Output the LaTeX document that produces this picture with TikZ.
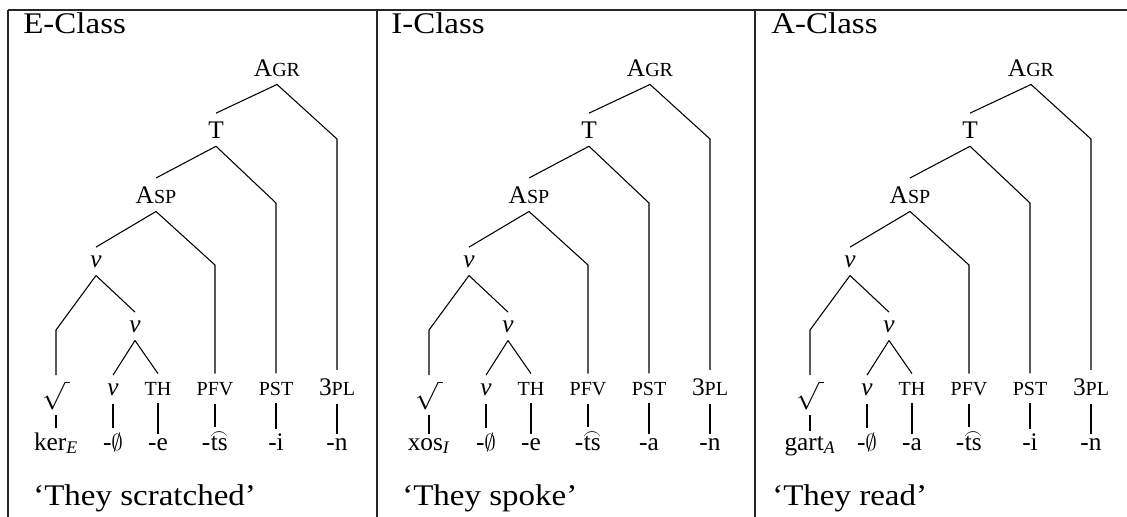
\documentclass[tikz,border=0pt]{standalone}
\usepackage{amsmath}
\usepackage{fontspec}
\setmainfont{Liberation Serif}
\newcommand{\labfont}{\fontsize{19}{21}\selectfont}
\newcommand{\scf}{\fontsize{15}{16}\selectfont}
\newcommand{\headfont}{\fontsize{22.5}{26}\selectfont}
\newcommand{\wide}[1]{\scalebox{1.1}[1]{#1}}
\newcommand{\tiets}{\leavevmode\vbox{\offinterlineskip\halign{\hfil##\hfil\cr
  \scalebox{0.8}[0.9]{$\frown$}\cr\noalign{\kern-2.5pt}ts\cr}}}
\tikzset{
  lab/.style={font=\labfont, inner xsep=1pt, inner ysep=6pt, anchor=base},
  morph/.style={font=\labfont, inner xsep=1pt, inner ysep=3pt, anchor=base},
  br/.style={line width=0.8pt},
  frame/.style={line width=1pt, draw=black!85},
  head/.style={font=\headfont, anchor=base west, inner sep=0pt}
}
\newcommand{\drawpanel}[5]{%
\begin{scope}[xshift=#2*0.75pt]
  \node[lab] (#1agr) at (277,76) {A{\scf GR}};
  \node[lab] (#1t) at (216,138) {T};
  \node[lab] (#1asp) at (156,203) {A{\scf SP}};
  \node[lab] (#1v) at (96,267) {\textit{v}};
  \node[lab] (#1vb) at (135,332) {\textit{v}};
  \node[lab, inner ysep=4pt] (#1rt) at (56,397) {\fontsize{22}{24}\selectfont$\sqrt{\,}$};
  \node[lab] (#1vc) at (113,395) {\textit{v}};
  \node[lab] (#1th) at (158,395) {{\scf TH}};
  \node[lab] (#1pfv) at (215,395) {{\scf PFV}};
  \node[lab] (#1pst) at (276,395) {{\scf PST}};
  \node[lab] (#1pl) at (337,395) {3{\scf PL}};
  \node[morph] (#1ma) at (56,450) {#3};
  \node[morph] (#1mb) at (113,450) {-$\emptyset$};
  \node[morph] (#1mc) at (158,450) {#4};
  \node[morph] (#1md) at (215,450) {-\tiets};
  \node[morph] (#1me) at (276,450) {#5};
  \node[morph] (#1mf) at (337,450) {-n};
  \coordinate (#1ca) at (337,139);
  \coordinate (#1ct) at (276,203);
  \coordinate (#1cs) at (215,265);
  \coordinate (#1cv) at (56,330);
  \draw[br] (#1agr.south) -- (#1t.north);
  \draw[br] (#1agr.south) -- (#1ca) -- (#1pl.north);
  \draw[br] (#1t.south) -- (#1asp.north);
  \draw[br] (#1t.south) -- (#1ct) -- (#1pst.north);
  \draw[br] (#1asp.south) -- (#1v.north);
  \draw[br] (#1asp.south) -- (#1cs) -- (#1pfv.north);
  \draw[br] (#1v.south) -- (#1cv) -- (#1rt.north);
  \draw[br] (#1v.south) -- (#1vb.north);
  \draw[br] (#1vb.south) -- (#1vc.north);
  \draw[br] (#1vb.south) -- (#1th.north);
  \draw[br] (#1rt.south) -- (#1ma.north);
  \draw[br] (#1vc.south) -- (#1mb.north);
  \draw[br] (#1th.south) -- (#1mc.north);
  \draw[br] (#1pfv.south) -- (#1md.north);
  \draw[br] (#1pst.south) -- (#1me.north);
  \draw[br] (#1pl.south) -- (#1mf.north);
\end{scope}}
\begin{document}
\begin{tikzpicture}[x=0.75pt, y=-0.75pt]
  \useasboundingbox (0,0) rectangle (1127,517);
  % table rules
  \draw[frame] (8,10) -- (1127,10);
  \draw[frame] (8,10) -- (8,517);
  \draw[frame] (377,10) -- (377,517);
  \draw[frame] (755,10) -- (755,517);
  % headings
  \node[head] (h1) at (23,34) {\wide{E-Class}};
  \node[head] (h2) at (391,34) {\wide{I-Class}};
  \node[head] (h3) at (771,34) {\wide{A-Class}};
  % trees
  \drawpanel{e}{0}{ker\textsubscript{\textit{E}}}{-e}{-i}
  \drawpanel{i}{373}{xos\textsubscript{\textit{I}}}{-e}{-a}
  \drawpanel{a}{754}{gart\textsubscript{\textit{A}}}{-a}{-i}
  % glosses
  \node[head] (g1) at (33,505) {\wide{‘They scratched’}};
  \node[head] (g2) at (402,505) {\wide{‘They spoke’}};
  \node[head] (g3) at (772,505) {\wide{‘They read’}};
\end{tikzpicture}
\end{document}
